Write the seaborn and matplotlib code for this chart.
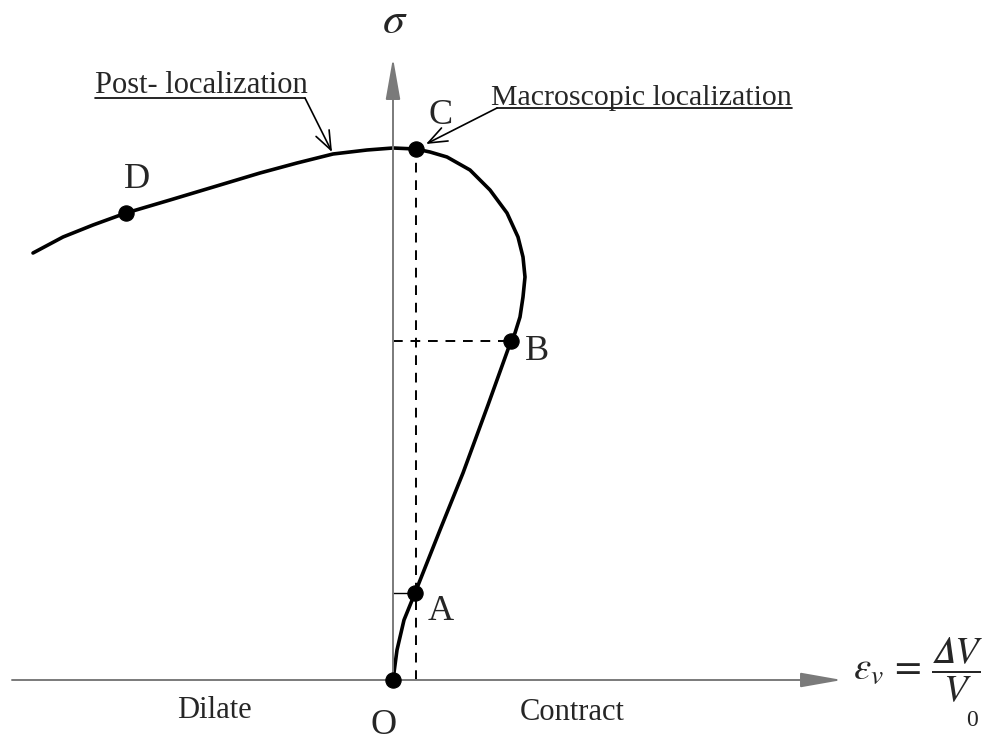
import numpy as np
import pandas as pd
import matplotlib
matplotlib.use("Agg")
import matplotlib.pyplot as plt
import seaborn as sns

# Stress path: volumetric strain (x) vs. deviatoric stress (y), arbitrary units
strain = [0.00, 0.04, 0.11, 0.22, 0.47, 0.70, 0.95, 1.18, 1.22, 1.27, 1.30, 1.32,
          1.30, 1.25, 1.14, 0.97, 0.77, 0.54, 0.37, 0.23, 0.00, -0.26,
          -0.60, -0.96, -1.33, -1.73, -2.23, -2.67, -3.00, -3.30, -3.60]
stress = [0.00, 0.30, 0.60, 0.87, 1.50, 2.07, 2.75, 3.39, 3.47, 3.63, 3.83, 4.03,
          4.23, 4.43, 4.67, 4.90, 5.10, 5.23, 5.28, 5.31, 5.32, 5.30,
          5.26, 5.17, 5.07, 4.95, 4.80, 4.67, 4.55, 4.43, 4.27]

# Characteristic states on the path
point_names = ["O", "A", "B", "C", "D"]
point_strain = [0.00, 0.22, 1.18, 0.23, -2.67]
point_stress = [0.00, 0.87, 3.39, 5.31, 4.67]

curve = pd.DataFrame({"strain": strain, "stress": stress})
points = pd.DataFrame({"name": point_names, "strain": point_strain, "stress": point_stress})

sns.set_style("white")
plt.rcParams["font.family"] = ["Liberation Serif", "DejaVu Serif"]
plt.rcParams["mathtext.fontset"] = "stix"

fig = plt.figure(figsize=(9.98, 7.43), dpi=100)
ax = fig.add_axes([0, 0, 1, 1])
ax.set_xlim(-3.93, 6.05)
ax.set_ylim(-0.63, 6.80)
ax.axis("off")

axis_color = "#7a7a7a"
arrow_style = "-|>,head_length=1.7,head_width=0.3"
# strain axis
ax.annotate("", xy=(4.49, 0), xytext=(-3.81, 0),
            arrowprops=dict(arrowstyle=arrow_style, color=axis_color, lw=1.4,
                            mutation_scale=15, shrinkA=0, shrinkB=0))
# stress axis
ax.annotate("", xy=(0.0, 6.22), xytext=(0.0, 0.0),
            arrowprops=dict(arrowstyle=arrow_style, color=axis_color, lw=1.4,
                            mutation_scale=15, shrinkA=0, shrinkB=0))

# dashed guides
xC, yC = point_strain[3], point_stress[3]
xB, yB = point_strain[2], point_stress[2]
xA, yA = point_strain[1], point_stress[1]
dash = dict(color="black", lw=1.4, ls=(0, (5, 4)))
ax.plot([xC, xC], [0, yC], **dash)
ax.plot([0, xB], [yB, yB], **dash)
ax.plot([0, xA], [yA, yA], color="black", lw=1.0)

sns.lineplot(data=curve, x="strain", y="stress", sort=False, estimator=None,
             color="black", lw=2.6, ax=ax, legend=False)
for ln in ax.lines[-1:]:
    ln.set_solid_joinstyle("round")
    ln.set_solid_capstyle("round")
sns.scatterplot(data=points, x="strain", y="stress", color="black", s=120,
                edgecolor="black", zorder=5, ax=ax, legend=False)
ax.set_xlabel("")
ax.set_ylabel("")

# point labels
label_pos = {"O": (-0.09, -0.46), "A": (0.48, 0.68), "B": (1.44, 3.28),
             "C": (0.48, 5.65), "D": (-2.56, 5.00)}
for name in point_names:
    lx, ly = label_pos[name]
    ax.text(lx, ly, name, fontsize=26, ha="center", va="center")

ax.text(-1.79, -0.31, "Dilate", fontsize=22, ha="center", va="center")
ax.text(1.79, -0.32, "Contract", fontsize=22, ha="center", va="center")

# axis titles
ax.text(0.02, 6.58, r"$\sigma$", fontsize=32, ha="center", va="center")
ax.text(4.60, 0.10, r"$\varepsilon_{v}\,=\,\dfrac{\mathit{𝛥V}}{V}$",
        fontsize=28, ha="left", va="center")
ax.text(5.79, -0.40, "0", fontsize=17, ha="center", va="center")

# callouts
ax.text(-2.98, 5.87, "Post- localization", fontsize=22, ha="left", va="baseline")
ax.plot([-2.98, -0.88], [5.82, 5.82], color="black", lw=1.2)
ax.annotate("", xy=(-0.61, 5.28), xytext=(-0.88, 5.82),
            arrowprops=dict(arrowstyle="->,head_length=0.9,head_width=0.35",
                            color="black", lw=1.2, mutation_scale=15,
                            shrinkA=0, shrinkB=0))

ax.text(0.98, 5.75, "Macroscopic localization", fontsize=21.5, ha="left", va="baseline")
ax.plot([1.04, 3.99], [5.72, 5.72], color="black", lw=1.2)
ax.annotate("", xy=(0.33, 5.36), xytext=(1.04, 5.72),
            arrowprops=dict(arrowstyle="->,head_length=0.9,head_width=0.35",
                            color="black", lw=1.2, mutation_scale=15,
                            shrinkA=0, shrinkB=0))

fig.savefig("out.png", dpi=100)
